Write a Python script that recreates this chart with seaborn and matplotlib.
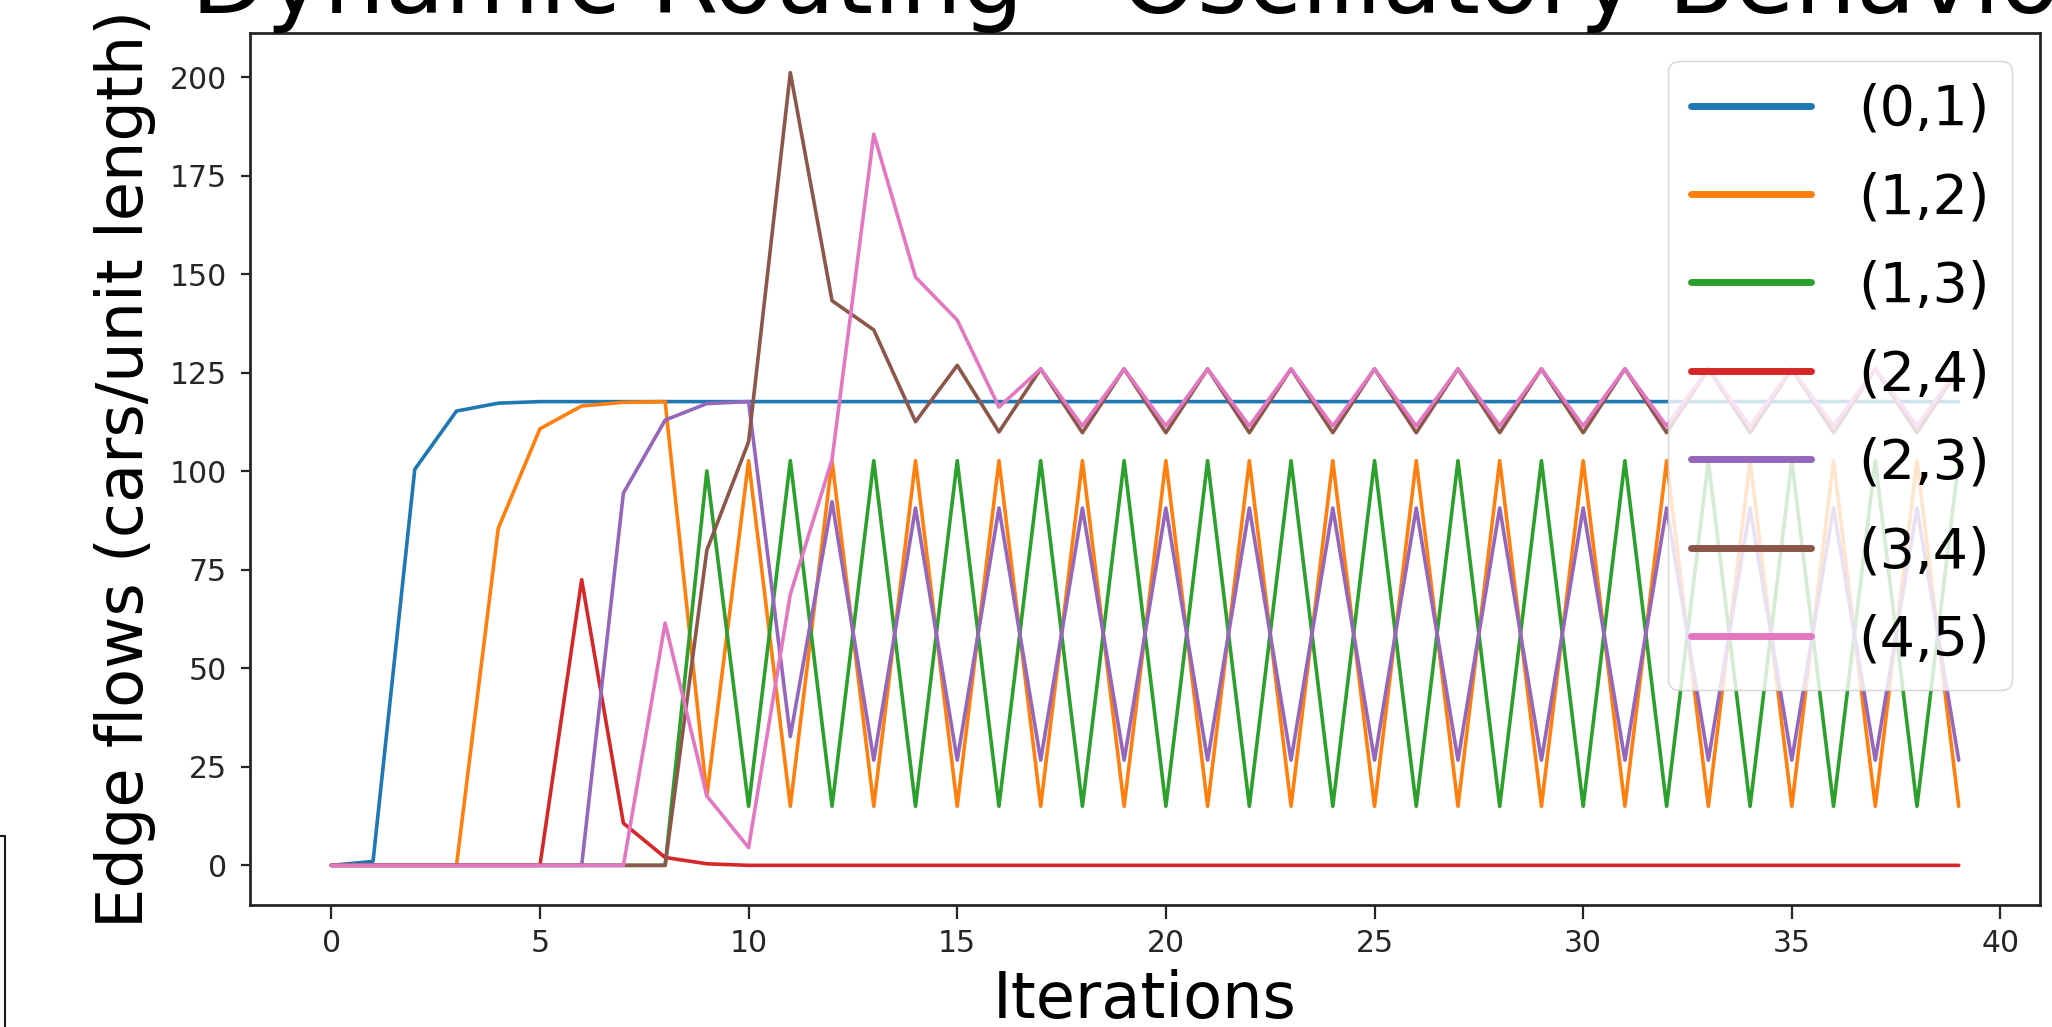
import numpy as np
import pandas as pd
import matplotlib.pyplot as plt
import seaborn as sns
from matplotlib.lines import Line2D

# 반복 횟수
iterations = list(range(40))

# 각 간선(edge)별 흐름 값
edge_01 = [0, 1.0, 100.5, 115.3, 117.3] + [117.7] * 35
edge_12 = [0, 0, 0, 0, 85.5, 110.8, 116.6, 117.5, 117.7, 17.6,
           102.7, 15.0, 102.7, 15.0, 102.7, 15.0, 102.7, 15.0, 102.7, 15.0,
           102.7, 15.0, 102.7, 15.0, 102.7, 15.0, 102.7, 15.0, 102.7, 15.0,
           102.7, 15.0, 102.7, 15.0, 102.7, 15.0, 102.7, 15.0, 102.7, 15.0]
edge_13 = [0, 0, 0, 0, 0, 0, 0, 0, 0, 100.1,
           15.0, 102.7, 15.0, 102.7, 15.0, 102.7, 15.0, 102.7, 15.0, 102.7,
           15.0, 102.7, 15.0, 102.7, 15.0, 102.7, 15.0, 102.7, 15.0, 102.7,
           15.0, 102.7, 15.0, 102.7, 15.0, 102.7, 15.0, 102.7, 15.0, 102.7]
edge_24 = [0, 0, 0, 0, 0, 0, 72.5, 10.7, 2.0, 0.4] + [0] * 30
edge_23 = [0, 0, 0, 0, 0, 0, 0, 94.5, 113.0, 117.2,
           117.7, 32.7, 92.3, 26.7, 90.7, 26.7, 90.7, 26.7, 90.7, 26.7,
           90.7, 26.7, 90.7, 26.7, 90.7, 26.7, 90.7, 26.7, 90.7, 26.7,
           90.7, 26.7, 90.7, 26.7, 90.7, 26.7, 90.7, 26.7, 90.7, 26.7]
edge_34 = [0, 0, 0, 0, 0, 0, 0, 0, 0, 80.0,
           107.5, 201.2, 143.3, 135.9, 112.6, 126.9, 110.0, 126.0, 109.8, 126.0,
           109.8, 126.0, 109.8, 126.0, 109.8, 126.0, 109.8, 126.0, 109.8, 126.0,
           109.8, 126.0, 109.8, 126.0, 109.8, 126.0, 109.8, 126.0, 109.8, 126.0]
edge_45 = [0, 0, 0, 0, 0, 0, 0, 0, 61.5, 17.6,
           4.5, 68.8, 103.0, 185.6, 149.3, 138.4, 116.3, 126.0, 111.5, 126.0,
           111.5, 126.0, 111.5, 126.0, 111.5, 126.0, 111.5, 126.0, 111.5, 126.0,
           111.5, 126.0, 111.5, 126.0, 111.5, 126.0, 111.5, 126.0, 111.5, 126.0]

edge_names = ['(0,1)', '(1,2)', '(1,3)', '(2,4)', '(2,3)', '(3,4)', '(4,5)']
edge_flows = [edge_01, edge_12, edge_13, edge_24, edge_23, edge_34, edge_45]

sns.set_theme(style="ticks")
plt.rcParams['font.family'] = ['DejaVu Sans']

fig = plt.figure(figsize=(20.52, 10.27), dpi=100)
ax = fig.add_axes([0.1218, 0.1188, 0.8724, 0.8491])

colors = sns.color_palette("tab10", len(edge_names))
for name, flow, c in zip(edge_names, edge_flows, colors):
    sns.lineplot(x=iterations, y=flow, label=name, color=c, lw=2.6, ax=ax)

ax.set_xlabel('Iterations', fontsize=46, labelpad=8, color='black')
ax.set_ylabel('Edge flows (cars/unit length)', fontsize=46, labelpad=10, color='black')
ax.set_title('Dynamic Routing - Oscillatory Behavior', fontsize=70, pad=14, color='black')

ax.set_xticks([0, 5, 10, 15, 20, 25, 30, 35, 40])
ax.set_yticks([0, 25, 50, 75, 100, 125, 150, 175, 200])
ax.tick_params(axis='x', labelsize=21.5, length=10, width=1.6, pad=7)
ax.tick_params(axis='y', labelsize=21.5, length=6.5, width=1.6, pad=10)
for s in ax.spines.values():
    s.set_linewidth(2)
    s.set_color('.15')

leg = ax.legend(loc='upper right', fontsize=40, handlelength=2.17,
                handletextpad=0.85, labelspacing=0.62)
for line in leg.get_lines():
    line.set_linewidth(5)
for t in leg.get_texts():
    t.set_color('black')

# 스크린샷 왼쪽 아래의 테두리 조각
fig.add_artist(Line2D([0.0024, 0.0024], [0.186, 0.0], transform=fig.transFigure, color='0.1', lw=1.5))
fig.add_artist(Line2D([0.0, 0.0024], [0.186, 0.186], transform=fig.transFigure, color='0.1', lw=1.5))

plt.savefig('out.png', dpi=100)
